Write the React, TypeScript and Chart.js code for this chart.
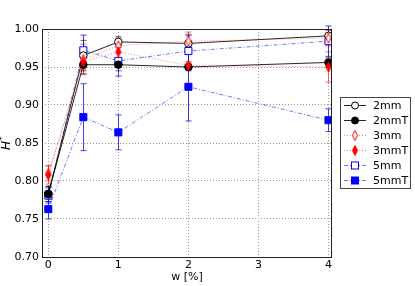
import React, { useEffect, useRef } from "react";
import { Chart, registerables } from "chart.js";

Chart.register(...registerables);

const xValues = [0, 0.5, 1, 2, 4];
const seriesNames = ["2mm", "2mmT", "3mm", "3mmT", "5mm", "5mmT"];
const v2mm = [0.783, 0.965, 0.983, 0.981, 0.991];
const v2mmT = [0.783, 0.953, 0.953, 0.950, 0.956];
const v3mm = [0.81, 0.96, 0.978, 0.984, 0.988];
const v3mmT = [0.808, 0.957, 0.970, 0.952, 0.950];
const v5mm = [0.781, 0.972, 0.958, 0.971, 0.984];
const v5mmT = [0.763, 0.884, 0.864, 0.924, 0.880];
const e2mm = [0.01, 0.02, 0.007, 0.012, 0.008];
const e2mmT = [0.01, 0.012, 0.008, 0.005, 0.006];
const e3mm = [0.01, 0.02, 0.01, 0.012, 0.01];
const e3mmT = [0.012, 0.01, 0.012, 0.005, 0.02];
const e5mm = [0.01, 0.02, 0.02, 0.02, 0.02];
const e5mmT = [0.013, 0.044, 0.023, 0.045, 0.015];
const yTicks = [0.7, 0.75, 0.8, 0.85, 0.9, 0.95, 1.0];
const xTicks = [0, 1, 2, 3, 4];

const FONT = "'DejaVu Sans', sans-serif";

function diamondImage(fill: boolean, color: string) {
  const c = document.createElement("canvas");
  const w = 8, h = 12;
  c.width = w; c.height = h;
  const ctx = c.getContext("2d")!;
  ctx.beginPath();
  ctx.moveTo(w / 2, 1);
  ctx.lineTo(w - 1.5, h / 2);
  ctx.lineTo(w / 2, h - 1);
  ctx.lineTo(1.5, h / 2);
  ctx.closePath();
  ctx.fillStyle = fill ? color : "white";
  ctx.fill();
  ctx.strokeStyle = color;
  ctx.lineWidth = 1;
  ctx.stroke();
  return c;
}

export default function App() {
  const ref = useRef<HTMLCanvasElement>(null);
  useEffect(() => {
    document.body.style.margin = "0";
    const red = "#ff0000";
    const blue = "#0000ff";
    const dOpen = diamondImage(false, red);
    const dFill = diamondImage(true, red);
    const values = [v2mm, v2mmT, v3mm, v3mmT, v5mm, v5mmT];
    const errors = [e2mm, e2mmT, e3mm, e3mmT, e5mm, e5mmT];
    const drawOrder = [4, 3, 2, 1, 5, 0];
    const styles = [
      { color: "#000", line: "rgba(0,0,0,0.85)", dash: [], point: "circle", fill: "#fff", r: 3.8 },
      { color: "#000", line: "rgba(0,0,0,0.85)", dash: [], point: "circle", fill: "#000", r: 3.8 },
      { color: red, line: "rgba(255,0,0,0.5)", dash: [1, 2], point: dOpen, fill: "#fff", r: 5 },
      { color: red, line: "rgba(255,0,0,0.5)", dash: [1, 2], point: dFill, fill: red, r: 5 },
      { color: blue, line: "rgba(0,0,255,0.55)", dash: [4, 2, 1, 2], point: "rect", fill: "#fff", r: 5 },
      { color: blue, line: "rgba(0,0,255,0.55)", dash: [4, 2, 1, 2], point: "rect", fill: blue, r: 5 },
    ];
    const datasets = seriesNames.map((name, i) => ({
      label: name,
      data: xValues.map((x, j) => ({ x, y: values[i][j] })),
      borderColor: styles[i].line,
      backgroundColor: styles[i].fill,
      borderWidth: 1,
      borderDash: styles[i].dash,
      pointStyle: styles[i].point as any,
      pointRadius: styles[i].r,
      pointBorderColor: styles[i].color,
      pointBackgroundColor: styles[i].fill,
      pointBorderWidth: 1,
      fill: false,
      tension: 0,
      order: drawOrder[i],
    }));

    const errorPlugin = {
      id: "errbars",
      beforeDatasetsDraw(chart: any) {
        const ctx = chart.ctx;
        const xs = chart.scales.x, ys = chart.scales.y;
        ctx.save();
        errors.forEach((errs, i) => {
          ctx.strokeStyle = i < 2 ? "rgba(0,0,0,0.6)" : i < 4 ? "rgba(255,0,0,0.6)" : "rgba(0,0,255,0.75)";
          ctx.lineWidth = 1;
          xValues.forEach((x, j) => {
            const px = Math.round(xs.getPixelForValue(x)) + 0.5;
            const y1 = ys.getPixelForValue(values[i][j] + errs[j]);
            const y2 = ys.getPixelForValue(values[i][j] - errs[j]);
            ctx.beginPath();
            ctx.moveTo(px, y1); ctx.lineTo(px, y2);
            ctx.moveTo(px - 3, y1); ctx.lineTo(px + 3, y1);
            ctx.moveTo(px - 3, y2); ctx.lineTo(px + 3, y2);
            ctx.stroke();
          });
        });
        ctx.restore();
      },
      afterDatasetsDraw(chart: any) {
        const ctx = chart.ctx;
        const a = chart.chartArea;
        ctx.save();
        ctx.strokeStyle = "#222";
        ctx.lineWidth = 1;
        ctx.strokeRect(Math.round(a.left) + 0.5, Math.round(a.top) + 0.5, Math.round(a.right - a.left) - 1, Math.round(a.bottom - a.top));
        ctx.restore();
      },
      afterDraw(chart: any) {
        const ctx = chart.ctx;
        ctx.save();
        ctx.translate(7, 143);
        ctx.rotate(-Math.PI / 2);
        ctx.fillStyle = "#000";
        ctx.textBaseline = "middle";
        ctx.textAlign = "left";
        ctx.font = "italic 12px " + FONT;
        const hw = ctx.measureText("H").width;
        ctx.fillText("H", -7, 0);
        ctx.font = "9px " + FONT;
        ctx.fillText("*", -7 + hw, -4);
        ctx.restore();
        ctx.save();
        ctx.fillStyle = "#000";
        ctx.font = "11px " + FONT;
        ctx.textAlign = "center";
        ctx.textBaseline = "middle";
        ctx.fillText("w [%]", 187, 277);
        const bx = 340.5, by = 97.5, bw = 70, bh = 91;
        ctx.fillStyle = "#fff";
        ctx.fillRect(bx, by, bw, bh);
        ctx.strokeStyle = "#444";
        ctx.lineWidth = 1;
        ctx.strokeRect(bx, by, bw, bh);
        seriesNames.forEach((name, i) => {
          const y = 105 + i * 15;
          const s = styles[i];
          ctx.strokeStyle = s.line;
          ctx.setLineDash(s.dash);
          ctx.beginPath();
          ctx.moveTo(344, y + 0.5);
          ctx.lineTo(366, y + 0.5);
          ctx.stroke();
          ctx.setLineDash([]);
          ctx.fillStyle = s.fill;
          ctx.strokeStyle = s.color;
          if (s.point === "circle") {
            ctx.beginPath();
            ctx.arc(355, y + 0.5, 3.5, 0, Math.PI * 2);
            ctx.fill();
            ctx.stroke();
          } else if (s.point === "rect") {
            ctx.fillRect(351.5, y - 3, 7, 7);
            ctx.strokeRect(351.5, y - 3, 7, 7);
          } else {
            ctx.drawImage(s.point as any, 351, y - 5.5);
          }
          ctx.fillStyle = "#000";
          ctx.textAlign = "left";
          ctx.font = "11px " + FONT;
          ctx.fillText(name, 373, y + 1);
        });
        ctx.restore();
      },
    };

    const chart = new Chart(ref.current!, {
      type: "line",
      data: { datasets: datasets as any },
      options: {
        animation: false,
        responsive: false,
        layout: { padding: { top: 29, right: 83, left: 0, bottom: 0 } },
        plugins: { legend: { display: false }, tooltip: { enabled: false } },
        scales: {
          x: {
            type: "linear",
            min: -0.09,
            max: 4.05,
            afterBuildTicks: (s: any) => { s.ticks = xTicks.map((v) => ({ value: v })); },
            afterFit: (s: any) => { s.height = 29; },
            ticks: { font: { family: FONT, size: 11 }, color: "#000", padding: 2, maxRotation: 0 },
            grid: { color: "#999", drawTicks: false, lineWidth: 1 },
            border: { display: false, dash: [1, 2] },
          },
          y: {
            type: "linear",
            min: 0.7,
            max: 1.0,
            afterBuildTicks: (s: any) => { s.ticks = yTicks.map((v) => ({ value: v })); },
            afterFit: (s: any) => { s.width = 42; },
            ticks: {
              font: { family: FONT, size: 11 },
              color: "#000",
              padding: 3,
              callback: (v: any) => Number(v).toFixed(2),
            },
            grid: { color: "#999", drawTicks: false, lineWidth: 1 },
            border: { display: false, dash: [1, 2] },
          },
        },
      },
      plugins: [errorPlugin],
    });
    return () => chart.destroy();
  }, []);
  return (
    <div style={{ position: "absolute", left: 0, top: 0, width: 415, height: 286 }}>
      <canvas ref={ref} width={415} height={286} />
    </div>
  );
}
